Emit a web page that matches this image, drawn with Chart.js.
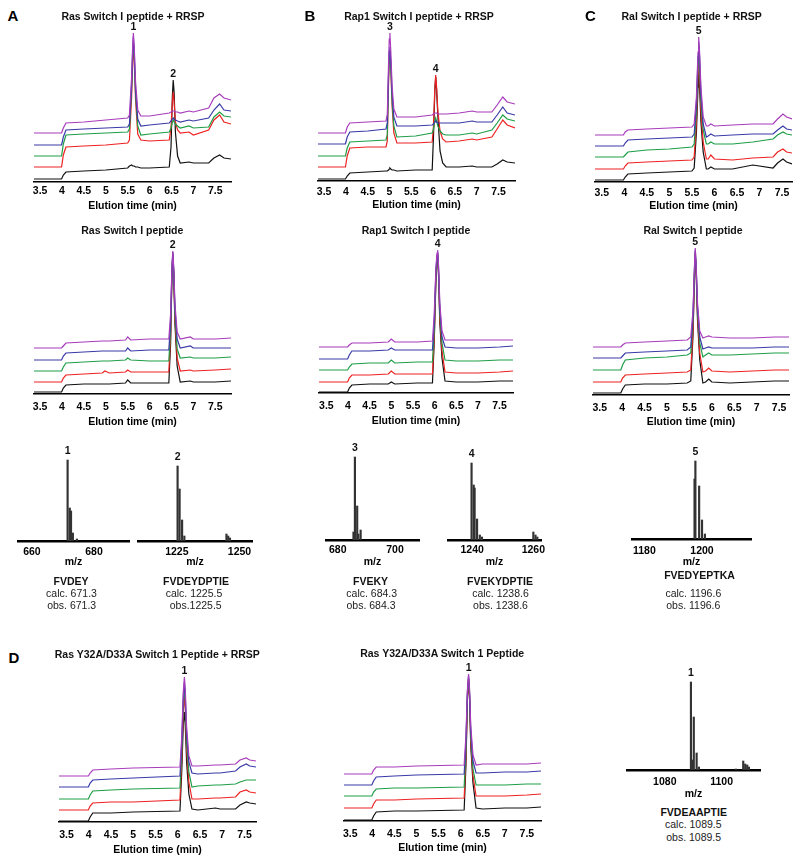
<!DOCTYPE html>
<html>
<head>
<meta charset="utf-8">
<script src="https://cdn.jsdelivr.net/npm/chart.js@4.4.0/dist/chart.umd.min.js"></script>
<style>
  body { margin: 0; background: #fff; width: 800px; height: 863px; position: relative; overflow: hidden;
         font-family: 'Liberation Sans', Arial, sans-serif; }
  canvas { position: absolute; }
  .t { position: absolute; transform: translate(-50%, -50%); white-space: nowrap; font-size: 10.5px;
       line-height: 1; color: #222; }
  .b { font-weight: bold; color: #111; }
  .L { font-weight: bold; font-size: 15px; color: #000; }
</style>
</head>
<body>
<script>
// ---- chromatogram data (height above the axis, trace order: purple, blue, green, red, black)
const elutionTicks = [3.5, 4, 4.5, 5, 5.5, 6, 6.5, 7, 7.5];

const a1Times  = [3.36, 3.99, 4.03, 4.09, 4.5, 5.0, 5.5, 5.54, 5.59, 5.615, 5.63, 5.65, 5.68, 5.73, 5.8, 6.0, 6.45, 6.49, 6.52, 6.54, 6.56, 6.59, 6.64, 6.7, 6.9, 7.0, 7.35, 7.47, 7.6, 7.7, 7.86];
const a1Purple = [49, 49, 54, 59, 60, 62, 64, 67, 105, 138, 149, 135, 100, 72, 66, 66, 69, 70, 71, 71, 71, 70, 70, 69, 71, 70, 74, 84, 88, 84, 82];
const a1Blue   = [37, 37, 45, 52, 53, 54, 55, 58, 98, 133, 145, 130, 92, 63, 56, 57, 59, 61, 63, 64, 63, 62, 61, 60, 62, 61, 64, 72, 78, 72, 71];
const a1Green  = [26, 26, 38, 47, 48, 49, 50, 53, 93, 128, 140, 125, 88, 56, 47, 48, 50, 54, 60, 62, 60, 58, 56, 54, 56, 54, 55, 65, 70, 66, 65];
const a1Red    = [15, 15, 27, 35, 36, 37, 39, 42, 85, 122, 135, 120, 82, 48, 42, 41, 42, 55, 80, 90, 80, 60, 52, 49, 50, 47, 52, 62, 67, 60, 58];
const a1Black  = [3, 3, 7, 10, 11, 12, 14, 16, 17, 16, 16, 16, 15, 15, 14, 14, 15, 35, 85, 102, 90, 50, 26, 19, 20, 19, 19, 24, 27, 24, 23];

const a2Times  = [3.36, 3.99, 4.03, 4.09, 4.5, 4.92, 4.98, 5.08, 5.45, 5.5, 5.57, 6.0, 6.44, 6.48, 6.51, 6.53, 6.55, 6.58, 6.63, 6.7, 6.93, 7.0, 7.5, 7.86];
const a2Purple = [46, 46, 48, 51, 52, 53, 53, 53, 54, 57, 54, 55, 55, 80, 125, 143, 128, 90, 62, 55, 57, 55, 55, 56];
const a2Blue   = [34, 34, 38, 41, 42, 43, 43, 43, 43, 46, 43, 44, 44, 72, 122, 142, 126, 85, 55, 46, 48, 46, 46, 46];
const a2Green  = [23, 23, 27, 31, 32, 33, 33, 33, 34, 36, 34, 33, 33, 65, 120, 141, 124, 80, 45, 36, 37, 36, 36, 37];
const a2Red    = [12, 12, 16, 19, 20, 21, 23, 21, 22, 24, 22, 22, 22, 58, 118, 140, 122, 75, 36, 23, 24, 23, 24, 25];
const a2Black  = [2, 2, 6, 9, 10, 10, 10, 10, 11, 14, 11, 11, 11, 50, 115, 139, 120, 70, 28, 12, 13, 12, 12, 13];

const b1Times  = [3.36, 3.99, 4.03, 4.09, 4.5, 4.92, 4.95, 4.98, 4.995, 5.01, 5.03, 5.06, 5.1, 5.17, 5.6, 5.98, 6.01, 6.04, 6.06, 6.08, 6.11, 6.16, 6.22, 6.3, 6.6, 6.9, 7.0, 7.35, 7.47, 7.6, 7.7, 7.88];
const b1Purple = [48, 48, 54, 58, 59, 60, 66, 120, 142, 148, 130, 95, 72, 64, 64, 66, 67, 68, 68, 68, 67, 67, 67, 67, 68, 70, 69, 69, 76, 84, 79, 77];
const b1Blue   = [37, 37, 44, 49, 50, 52, 58, 110, 130, 134, 120, 88, 64, 55, 55, 56, 57, 59, 60, 59, 58, 58, 58, 58, 58, 60, 59, 59, 66, 74, 68, 66];
const b1Green  = [25, 25, 33, 39, 40, 41, 46, 105, 125, 130, 115, 80, 55, 44, 45, 48, 52, 60, 63, 60, 55, 50, 47, 46, 46, 48, 47, 51, 58, 66, 62, 60];
const b1Red    = [14, 14, 25, 33, 34, 34, 40, 100, 122, 128, 112, 75, 48, 38, 38, 39, 55, 92, 106, 95, 70, 50, 42, 39, 40, 42, 41, 44, 52, 61, 56, 53];
const b1Black  = [2, 2, 5, 8, 9, 10, 10, 11, 12, 13, 12, 11, 11, 10, 11, 11, 45, 90, 104, 92, 65, 30, 18, 14, 14, 15, 14, 14, 17, 21, 19, 18];

const b2Times  = [3.33, 3.99, 4.03, 4.09, 4.5, 4.93, 5.0, 5.08, 5.6, 5.95, 5.99, 6.03, 6.055, 6.07, 6.09, 6.12, 6.17, 6.24, 6.5, 7.0, 7.5, 7.81];
const b2Purple = [46, 46, 48, 50, 50, 51, 54, 51, 51, 52, 78, 125, 140, 143, 128, 90, 62, 53, 53, 53, 53, 53];
const b2Blue   = [34, 34, 38, 42, 42, 43, 45, 43, 43, 43, 70, 122, 138, 141, 125, 85, 56, 46, 45, 45, 46, 47];
const b2Green  = [23, 23, 26, 29, 30, 30, 33, 30, 31, 31, 62, 118, 136, 140, 122, 80, 50, 33, 32, 32, 33, 33];
const b2Red    = [11, 11, 15, 18, 18, 19, 22, 19, 19, 19, 55, 115, 135, 139, 120, 75, 42, 21, 20, 20, 21, 22];
const b2Black  = [1, 1, 5, 8, 9, 9, 11, 9, 10, 10, 50, 112, 133, 138, 118, 70, 35, 12, 11, 11, 12, 12];

const c1Times  = [3.35, 3.98, 4.02, 4.08, 4.5, 5.0, 5.5, 5.55, 5.6, 5.635, 5.65, 5.67, 5.7, 5.75, 5.82, 5.86, 5.92, 6.0, 6.4, 6.85, 7.3, 7.4, 7.52, 7.6, 7.72];
const c1Purple = [47, 47, 50, 52, 53, 54, 55, 58, 85, 130, 145, 130, 95, 65, 56, 56, 58, 56, 57, 58, 58, 63, 68, 65, 63];
const c1Blue   = [36, 36, 39, 42, 43, 44, 45, 48, 78, 125, 140, 125, 88, 58, 45, 46, 48, 46, 47, 48, 48, 52, 56, 53, 52];
const c1Green  = [25, 25, 27, 30, 32, 33, 35, 38, 70, 118, 135, 118, 80, 52, 38, 38, 40, 38, 38, 40, 43, 47, 50, 48, 47];
const c1Red    = [13, 13, 16, 19, 20, 21, 22, 25, 60, 108, 125, 108, 70, 40, 23, 23, 27, 23, 22, 24, 25, 30, 33, 30, 29];
const c1Black  = [2, 2, 5, 8, 9, 10, 11, 14, 50, 95, 110, 95, 60, 30, 13, 13, 15, 13, 13, 17, 14, 19, 23, 20, 18];

const c2Times  = [3.35, 3.97, 4.01, 4.07, 4.5, 5.0, 5.45, 5.53, 5.58, 5.615, 5.63, 5.65, 5.68, 5.73, 5.8, 5.86, 5.93, 6.0, 6.4, 6.9, 7.4, 7.72];
const c2Purple = [48, 48, 50, 52, 53, 54, 55, 58, 85, 132, 147, 130, 92, 64, 57, 58, 59, 58, 57, 57, 58, 58];
const c2Blue   = [37, 37, 39, 42, 43, 44, 45, 48, 80, 130, 145, 128, 88, 58, 46, 47, 48, 47, 47, 47, 48, 48];
const c2Green  = [25, 25, 30, 35, 37, 38, 40, 42, 75, 128, 143, 126, 85, 52, 38, 40, 42, 40, 40, 41, 42, 42];
const c2Red    = [13, 13, 17, 20, 21, 22, 23, 25, 65, 125, 142, 124, 80, 42, 23, 24, 27, 24, 23, 24, 25, 25];
const c2Black  = [2, 2, 6, 10, 11, 11, 12, 14, 60, 122, 140, 122, 75, 35, 12, 13, 16, 13, 12, 13, 14, 14];

const d1Times  = [3.33, 3.99, 4.03, 4.09, 4.5, 5.0, 6.05, 6.09, 6.125, 6.15, 6.17, 6.2, 6.25, 6.32, 6.45, 6.85, 6.95, 7.3, 7.4, 7.54, 7.62, 7.76];
const d1Purple = [46, 46, 49, 52, 53, 54, 55, 85, 130, 145, 132, 95, 66, 56, 56, 57, 57, 58, 62, 64, 62, 61];
const d1Blue   = [35, 35, 39, 42, 43, 44, 46, 78, 125, 140, 126, 88, 60, 49, 48, 49, 49, 51, 55, 58, 56, 55];
const d1Green  = [23, 23, 27, 31, 32, 33, 34, 70, 120, 135, 120, 80, 50, 35, 36, 37, 37, 38, 40, 42, 42, 42];
const d1Red    = [12, 12, 16, 19, 20, 20, 22, 62, 112, 125, 112, 72, 40, 23, 23, 24, 24, 25, 30, 32, 30, 29];
const d1Black  = [1, 1, 5, 9, 9, 10, 11, 50, 98, 110, 96, 60, 28, 13, 12, 14, 13, 13, 17, 20, 19, 18];

const d2Times  = [3.36, 3.99, 4.03, 4.09, 4.5, 5.0, 6.08, 6.12, 6.155, 6.18, 6.2, 6.23, 6.28, 6.35, 6.5, 7.0, 7.5, 7.82];
const d2Purple = [47, 47, 51, 54, 54, 55, 56, 85, 132, 147, 134, 95, 66, 56, 57, 57, 57, 58];
const d2Blue   = [36, 36, 40, 44, 45, 46, 47, 78, 130, 145, 132, 90, 60, 48, 48, 49, 49, 50];
const d2Green  = [25, 25, 29, 32, 33, 33, 34, 70, 128, 143, 130, 85, 52, 36, 36, 36, 37, 37];
const d2Red    = [13, 13, 17, 21, 21, 22, 23, 62, 125, 142, 128, 80, 45, 25, 25, 25, 26, 27];
const d2Black  = [1, 1, 5, 9, 10, 10, 11, 55, 122, 140, 126, 75, 38, 13, 12, 13, 13, 14];

// ---- mass spectra
const msA1Mz = [671.5, 672.2, 672.6, 673.2, 674.5];
const msA1Int = [81, 33, 30, 8, 2];
const msA1Ticks = [660, 680];
const msA2Mz = [1225.3, 1226.1, 1227.1, 1228.0, 1244.8, 1245.5, 1246.2];
const msA2Int = [75, 52, 21, 5, 7, 5, 3];
const msA2Ticks = [1225, 1250];
const msB1Mz = [685.5, 686.0, 686.8, 687.2, 688.0];
const msB1Int = [8, 83, 34, 6, 10];
const msB1Ticks = [680, 700];
const msB2Mz = [1239.8, 1240.5, 1240.8, 1241.6, 1242.5, 1243.2, 1260.0, 1260.7, 1261.3];
const msB2Int = [77, 55, 52, 21, 5, 3, 8, 5, 3];
const msB2Ticks = [1240, 1260];
const msCMz = [1197.4, 1197.7, 1199.0, 1200.0, 1201.0];
const msCInt = [60, 78, 53, 19, 5];
const msCTicks = [1180, 1200];
const msDMz = [1089.2, 1089.6, 1090.2, 1091.2, 1092.0, 1105.0, 1107.6, 1108.3, 1109.0, 1109.6];
const msDInt = [88, 10, 53, 17, 3, 1, 9, 6, 5, 3];
const msDTicks = [1080, 1100];

const COLORS = ['#a83cbc', '#3a3aa8', '#1f9e48', '#ee2222', '#111111'];
const FONT = "'Liberation Sans', Arial, sans-serif";
Chart.defaults.font.family = FONT;

// number labels over the peaks, placed with the chart's own scales
function peakLabels(list, gap) {
    return {
        id: 'peakLabels',
        afterDatasetsDraw(chart) {
            const ctx = chart.ctx, xs = chart.scales.x, ys = chart.scales.y;
            ctx.save();
            ctx.font = 'bold 10.5px ' + FONT;
            ctx.fillStyle = '#111';
            ctx.textAlign = 'center';
            ctx.textBaseline = 'bottom';
            list.forEach(p => {
                let top = 0;
                chart.data.datasets.forEach(ds => ds.data.forEach(d => {
                    if (d.x === p.at && d.y > top) top = d.y;
                }));
                ctx.fillText(p.text, xs.getPixelForValue(p.at), ys.getPixelForValue(top) - gap);
            });
            ctx.restore();
        }
    };
}

function addCanvas(left, top, w, h) {
    const c = document.createElement('canvas');
    c.width = w; c.height = h;
    c.style.left = left + 'px';
    c.style.top = top + 'px';
    document.body.appendChild(c);
    return c;
}

function xAxis(cfg, ticks, H, title, borderW) {
    return {
        type: 'linear', min: cfg.xMin, max: cfg.xMax, offset: false,
        afterBuildTicks: s => { s.ticks = ticks.map(v => ({ value: v })); },
        afterFit: s => { s.height = H; },
        grid: { display: false, drawTicks: false },
        border: { display: true, color: '#000', width: borderW },
        ticks: { callback: v => String(v), color: '#000', font: { size: 10.5, weight: 'bold' },
                 padding: cfg.tickGap - 6.3, maxRotation: 0, autoSkip: false },
        title: { display: true, text: title, color: '#000', font: { size: 10.5, weight: 'bold' },
                 padding: { top: 0, bottom: H - 6.3 - cfg.titleGap } }
    };
}

function chromatogram(cfg) {
    const pad = 15, H = 45, yMax = 150;
    const c = addCanvas(cfg.left - pad, cfg.axisY - yMax - pad, cfg.right - cfg.left + 2 * pad, yMax + pad + H);
    new Chart(c, {
        type: 'line',
        data: {
            datasets: cfg.traces.map((vals, k) => ({
                data: cfg.times.map((t, i) => ({ x: t, y: vals[i] })),
                borderColor: COLORS[k], borderWidth: 1.2, pointRadius: 0, tension: 0, fill: false
            }))
        },
        options: {
            responsive: false, animation: false, devicePixelRatio: 1,
            layout: { padding: { top: pad, left: pad, right: pad, bottom: 0 } },
            plugins: { legend: { display: false }, tooltip: { enabled: false } },
            scales: {
                x: xAxis(cfg, elutionTicks, H, 'Elution time (min)', 1.5),
                y: { display: false, min: 0, max: yMax }
            }
        },
        plugins: [peakLabels(cfg.peaks, 1)]
    });
}

function spectrum(cfg) {
    const pad = 15, H = 35, yMax = 95;
    const c = addCanvas(cfg.left - pad, cfg.axisY - yMax - pad, cfg.right - cfg.left + 2 * pad, yMax + pad + H);
    new Chart(c, {
        type: 'bar',
        data: {
            datasets: [{
                data: cfg.mz.map((m, i) => ({ x: m, y: cfg.intensity[i] })),
                backgroundColor: '#333', borderWidth: 0, barThickness: 1.5
            }]
        },
        options: {
            responsive: false, animation: false, devicePixelRatio: 1,
            layout: { padding: { top: pad, left: pad, right: pad, bottom: 0 } },
            plugins: { legend: { display: false }, tooltip: { enabled: false } },
            scales: {
                x: xAxis(cfg, cfg.ticks, H, 'm/z', 2.5),
                y: { display: false, min: 0, max: yMax }
            }
        },
        plugins: [peakLabels(cfg.peaks, 4)]
    });
}

chromatogram({ left: 34, right: 231, axisY: 182, xMin: 3.36, xMax: 7.86, tickGap: 9, titleGap: 24,
    times: a1Times, traces: [a1Purple, a1Blue, a1Green, a1Red, a1Black],
    peaks: [{ at: 5.63, text: '1' }, { at: 6.54, text: '2' }] });
chromatogram({ left: 34, right: 231, axisY: 394, xMin: 3.36, xMax: 7.86, tickGap: 13.5, titleGap: 28.5,
    times: a2Times, traces: [a2Purple, a2Blue, a2Green, a2Red, a2Black],
    peaks: [{ at: 6.53, text: '2' }] });
chromatogram({ left: 318, right: 515, axisY: 181, xMin: 3.36, xMax: 7.88, tickGap: 11, titleGap: 24.5,
    times: b1Times, traces: [b1Purple, b1Blue, b1Green, b1Red, b1Black],
    peaks: [{ at: 5.01, text: '3' }, { at: 6.06, text: '4' }] });
chromatogram({ left: 319, right: 513, axisY: 393, xMin: 3.33, xMax: 7.81, tickGap: 13.5, titleGap: 28.5,
    times: b2Times, traces: [b2Purple, b2Blue, b2Green, b2Red, b2Black],
    peaks: [{ at: 6.07, text: '4' }] });
chromatogram({ left: 595, right: 792, axisY: 182, xMin: 3.35, xMax: 7.72, tickGap: 11, titleGap: 24.3,
    times: c1Times, traces: [c1Purple, c1Blue, c1Green, c1Red, c1Black],
    peaks: [{ at: 5.65, text: '5' }] });
chromatogram({ left: 593, right: 789, axisY: 395, xMin: 3.35, xMax: 7.72, tickGap: 13.3, titleGap: 27.3,
    times: c2Times, traces: [c2Purple, c2Blue, c2Green, c2Red, c2Black],
    peaks: [{ at: 5.63, text: '5' }] });
chromatogram({ left: 59, right: 256, axisY: 822, xMin: 3.33, xMax: 7.76, tickGap: 13.3, titleGap: 28.3,
    times: d1Times, traces: [d1Purple, d1Blue, d1Green, d1Red, d1Black],
    peaks: [{ at: 6.15, text: '1' }] });
chromatogram({ left: 344, right: 541, axisY: 821, xMin: 3.36, xMax: 7.82, tickGap: 12.7, titleGap: 26.7,
    times: d2Times, traces: [d2Purple, d2Blue, d2Green, d2Red, d2Black],
    peaks: [{ at: 6.18, text: '1' }] });

spectrum({ left: 18, right: 129, axisY: 541, xMin: 655.5, xMax: 691.3, tickGap: 11, titleGap: 21.3,
    mz: msA1Mz, intensity: msA1Int, ticks: msA1Ticks, peaks: [{ at: 671.5, text: '1' }] });
spectrum({ left: 138, right: 252, axisY: 541, xMin: 1209.5, xMax: 1255, tickGap: 11, titleGap: 21.3,
    mz: msA2Mz, intensity: msA2Int, ticks: msA2Ticks, peaks: [{ at: 1225.3, text: '2' }] });
spectrum({ left: 326, right: 419, axisY: 540, xMin: 675.9, xMax: 708.4, tickGap: 10, titleGap: 21.7,
    mz: msB1Mz, intensity: msB1Int, ticks: msB1Ticks, peaks: [{ at: 686.0, text: '3' }] });
spectrum({ left: 448, right: 541, axisY: 540, xMin: 1232.1, xMax: 1262.5, tickGap: 10, titleGap: 21.7,
    mz: msB2Mz, intensity: msB2Int, ticks: msB2Ticks, peaks: [{ at: 1239.8, text: '4' }] });
spectrum({ left: 632, right: 751, axisY: 539, xMin: 1175.7, xMax: 1217, tickGap: 11.7, titleGap: 22.7,
    mz: msCMz, intensity: msCInt, ticks: msCTicks, peaks: [{ at: 1197.7, text: '5' }] });
spectrum({ left: 627, right: 760, axisY: 770, xMin: 1066.7, xMax: 1113.5, tickGap: 12.3, titleGap: 24,
    mz: msDMz, intensity: msDInt, ticks: msDTicks, peaks: [{ at: 1089.2, text: '1' }] });

// titles, panel letters and peptide notes
const notes = [
    ['A', 13, 15, 'L'], ['B', 310, 15, 'L'], ['C', 590.5, 15, 'L'], ['D', 14, 657, 'L'],
    ['Ras Switch I peptide + RRSP', 133, 15.5, 'b'],
    ['Rap1 Switch I peptide + RRSP', 419, 15.5, 'b'],
    ['Ral Switch I peptide + RRSP', 691.7, 15.5, 'b'],
    ['Ras Switch I peptide', 132.3, 230, 'b'],
    ['Rap1 Switch I peptide', 416, 230, 'b'],
    ['Ral Switch I peptide', 693, 230, 'b'],
    ['Ras Y32A/D33A Switch 1 Peptide + RRSP', 157.3, 654, 'b'],
    ['Ras Y32A/D33A Switch 1 Peptide', 442.2, 653.3, 'b'],
    ['FVDEY', 71, 581, 'b'], ['calc. 671.3', 71.5, 593, ''], ['obs. 671.3', 71.7, 605, ''],
    ['FVDEYDPTIE', 196, 581, 'b'], ['calc. 1225.5', 194, 593, ''], ['obs.1225.5', 195.7, 605, ''],
    ['FVEKY', 370.5, 581, 'b'], ['calc. 684.3', 371.7, 593, ''], ['obs. 684.3', 371, 605, ''],
    ['FVEKYDPTIE', 500, 581, 'b'], ['calc. 1238.6', 500.5, 593, ''], ['obs. 1238.6', 500.5, 605, ''],
    ['FVEDYEPTKA', 699.5, 575, 'b'], ['calc. 1196.6', 693.3, 593.3, ''], ['obs. 1196.6', 693.3, 605.3, ''],
    ['FVDEAAPTIE', 693.7, 811.7, 'b'], ['calc. 1089.5', 693.3, 824.3, ''], ['obs. 1089.5', 693.7, 837.3, '']
];
notes.forEach(([text, x, y, cls]) => {
    const d = document.createElement('div');
    d.className = 't ' + cls;
    d.textContent = text;
    d.style.left = x + 'px';
    d.style.top = y + 'px';
    document.body.appendChild(d);
});
</script>
</body>
</html>
